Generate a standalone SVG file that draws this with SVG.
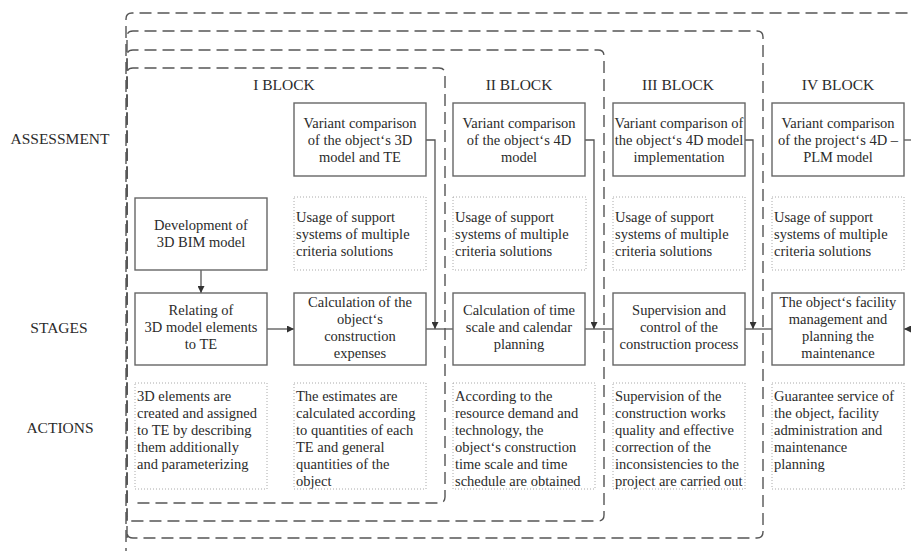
<svg xmlns="http://www.w3.org/2000/svg" width="911" height="551" viewBox="0 0 911 551">
<style>
  .bg{fill:#fff}
  text{font-family:'Liberation Serif','DejaVu Serif',serif}
  .t{font-size:14.5px;fill:#2b2b2b}
  .c{text-anchor:middle}
  .lbl{font-size:15.5px;fill:#2b2b2b;text-anchor:middle}
  .box{fill:#fff;stroke:#666;stroke-width:1.4}
  .dot{fill:none;stroke:#aaa;stroke-width:1;stroke-dasharray:1 2}
  .frame{fill:none;stroke:#555;stroke-width:1.4;stroke-dasharray:12 6}
  .conn{fill:none;stroke:#555;stroke-width:1.3}
</style>
<defs>
  <marker id="ah" viewBox="0 0 8 8" refX="8" refY="4" markerWidth="7" markerHeight="7" markerUnits="userSpaceOnUse" orient="auto">
    <path d="M0,0 L8,4 L0,8 z" fill="#333"/>
  </marker>
</defs>
<rect class="bg" x="0" y="0" width="911" height="551"/>

<g id="frames">
  <path class="frame" d="M126,560 V19 Q126,13 132,13 H920"/>
  <path class="frame" d="M127,538 V37 Q127,31 133,31 H757 Q763,31 763,37 V532 Q763,538 757,538 H133 Q127,538 127,532"/>
  <path class="frame" d="M127,521 V56 Q127,50 133,50 H598 Q604,50 604,56 V515 Q604,521 598,521 H133 Q127,521 127,515"/>
  <path class="frame" d="M127,503 V74 Q127,68 133,68 H439 Q445,68 445,74 V497 Q445,503 439,503 H133"/>
</g>

<g id="row-labels" font-family="Liberation Serif, DejaVu Serif, serif">
  <text class="lbl" x="60" y="144">ASSESSMENT</text>
  <text class="lbl" x="59" y="333">STAGES</text>
  <text class="lbl" x="60" y="433">ACTIONS</text>
</g>

<g id="block-titles" font-family="Liberation Serif, DejaVu Serif, serif">
  <text class="lbl" x="284" y="90">I BLOCK</text>
  <text class="lbl" x="519" y="90">II BLOCK</text>
  <text class="lbl" x="678" y="90">III BLOCK</text>
  <text class="lbl" x="838" y="90">IV BLOCK</text>
</g>

<g id="connectors">
  <path class="conn" d="M201,270 V293" marker-end="url(#ah)"/>
  <path class="conn" d="M267,329 H294" marker-end="url(#ah)"/>
  <path class="conn" d="M426,140 H435 V329" marker-end="url(#ah)"/>
  <path class="conn" d="M426,329 H453"/>
  <path class="conn" d="M585,140 H594 V329" marker-end="url(#ah)"/>
  <path class="conn" d="M585,329 H613"/>
  <path class="conn" d="M745,140 H753 V329" marker-end="url(#ah)"/>
  <path class="conn" d="M745,329 H772"/>
  <path class="conn" d="M904,140 H911"/>
  <path class="conn" d="M915,329 H904" marker-end="url(#ah)"/>
</g>

<!-- Column 1 -->
<g id="development">
  <rect class="box" x="135" y="198" width="132" height="72"/>
  <text class="t c" x="201" y="230">Development of</text>
  <text class="t c" x="201" y="247">3D BIM model</text>
</g>
<g id="relating">
  <rect class="box" x="135" y="293" width="132" height="72"/>
  <text class="t c" x="201" y="315">Relating of</text>
  <text class="t c" x="201" y="332">3D model elements</text>
  <text class="t c" x="201" y="349">to TE</text>
</g>
<g id="actions1">
  <rect class="dot" x="135" y="383" width="132" height="106"/>
  <text class="t" x="137" y="401">3D elements are</text>
  <text class="t" x="137" y="418">created and assigned</text>
  <text class="t" x="137" y="435">to TE by describing</text>
  <text class="t" x="137" y="452">them additionally</text>
  <text class="t" x="137" y="469">and parameterizing</text>
</g>

<!-- Column 2 -->
<g id="variant2">
  <rect class="box" x="294" y="103" width="132" height="73"/>
  <text class="t c" x="360" y="128">Variant comparison</text>
  <text class="t c" x="360" y="145">of the object‘s 3D</text>
  <text class="t c" x="360" y="162">model and TE</text>
</g>
<g id="usage2">
  <rect class="dot" x="294" y="197" width="132" height="73"/>
  <text class="t" x="296" y="222">Usage of support</text>
  <text class="t" x="296" y="239">systems of multiple</text>
  <text class="t" x="296" y="256">criteria solutions</text>
</g>
<g id="calc2">
  <rect class="box" x="294" y="293" width="132" height="72"/>
  <text class="t c" x="360" y="307">Calculation of the</text>
  <text class="t c" x="360" y="324">object‘s</text>
  <text class="t c" x="360" y="341">construction</text>
  <text class="t c" x="360" y="358">expenses</text>
</g>
<g id="actions2">
  <rect class="dot" x="294" y="383" width="132" height="106"/>
  <text class="t" x="296" y="401">The estimates are</text>
  <text class="t" x="296" y="418">calculated according</text>
  <text class="t" x="296" y="435">to quantities of each</text>
  <text class="t" x="296" y="452">TE and general</text>
  <text class="t" x="296" y="469">quantities of the</text>
  <text class="t" x="296" y="486">object</text>
</g>

<!-- Column 3 -->
<g id="variant3">
  <rect class="box" x="453" y="103" width="132" height="73"/>
  <text class="t c" x="519" y="128">Variant comparison</text>
  <text class="t c" x="519" y="145">of the object‘s 4D</text>
  <text class="t c" x="519" y="162">model</text>
</g>
<g id="usage3">
  <rect class="dot" x="453" y="197" width="133" height="73"/>
  <text class="t" x="455" y="222">Usage of support</text>
  <text class="t" x="455" y="239">systems of multiple</text>
  <text class="t" x="455" y="256">criteria solutions</text>
</g>
<g id="calc3">
  <rect class="box" x="453" y="293" width="132" height="72"/>
  <text class="t c" x="519" y="315">Calculation of time</text>
  <text class="t c" x="519" y="332">scale and calendar</text>
  <text class="t c" x="519" y="349">planning</text>
</g>
<g id="actions3">
  <rect class="dot" x="453" y="383" width="142" height="106"/>
  <text class="t" x="455" y="401">According to the</text>
  <text class="t" x="455" y="418">resource demand and</text>
  <text class="t" x="455" y="435">technology, the</text>
  <text class="t" x="455" y="452">object‘s construction</text>
  <text class="t" x="455" y="469">time scale and time</text>
  <text class="t" x="455" y="486">schedule are obtained</text>
</g>

<!-- Column 4 -->
<g id="variant4">
  <rect class="box" x="613" y="103" width="132" height="73"/>
  <text class="t c" x="679" y="128">Variant comparison of</text>
  <text class="t c" x="679" y="145">the object‘s 4D model</text>
  <text class="t c" x="679" y="162">implementation</text>
</g>
<g id="usage4">
  <rect class="dot" x="613" y="197" width="132" height="73"/>
  <text class="t" x="615" y="222">Usage of support</text>
  <text class="t" x="615" y="239">systems of multiple</text>
  <text class="t" x="615" y="256">criteria solutions</text>
</g>
<g id="supervision">
  <rect class="box" x="613" y="293" width="132" height="72"/>
  <text class="t c" x="679" y="315">Supervision and</text>
  <text class="t c" x="679" y="332">control of the</text>
  <text class="t c" x="679" y="349">construction process</text>
</g>
<g id="actions4">
  <rect class="dot" x="613" y="383" width="132" height="106"/>
  <text class="t" x="615" y="401">Supervision of the</text>
  <text class="t" x="615" y="418">construction works</text>
  <text class="t" x="615" y="435">quality and effective</text>
  <text class="t" x="615" y="452">correction of the</text>
  <text class="t" x="615" y="469">inconsistencies to the</text>
  <text class="t" x="615" y="486">project are carried out</text>
</g>

<!-- Column 5 -->
<g id="variant5">
  <rect class="box" x="772" y="103" width="132" height="73"/>
  <text class="t c" x="838" y="128">Variant comparison</text>
  <text class="t c" x="838" y="145">of the project‘s 4D –</text>
  <text class="t c" x="838" y="162">PLM model</text>
</g>
<g id="usage5">
  <rect class="dot" x="772" y="197" width="132" height="73"/>
  <text class="t" x="774" y="222">Usage of support</text>
  <text class="t" x="774" y="239">systems of multiple</text>
  <text class="t" x="774" y="256">criteria solutions</text>
</g>
<g id="facility">
  <rect class="box" x="772" y="293" width="132" height="72"/>
  <text class="t c" x="838" y="307">The object‘s facility</text>
  <text class="t c" x="838" y="324">management and</text>
  <text class="t c" x="838" y="341">planning the</text>
  <text class="t c" x="838" y="358">maintenance</text>
</g>
<g id="actions5">
  <rect class="dot" x="772" y="383" width="132" height="106"/>
  <text class="t" x="774" y="401">Guarantee service of</text>
  <text class="t" x="774" y="418">the object, facility</text>
  <text class="t" x="774" y="435">administration and</text>
  <text class="t" x="774" y="452">maintenance</text>
  <text class="t" x="774" y="469">planning</text>
</g>
</svg>
